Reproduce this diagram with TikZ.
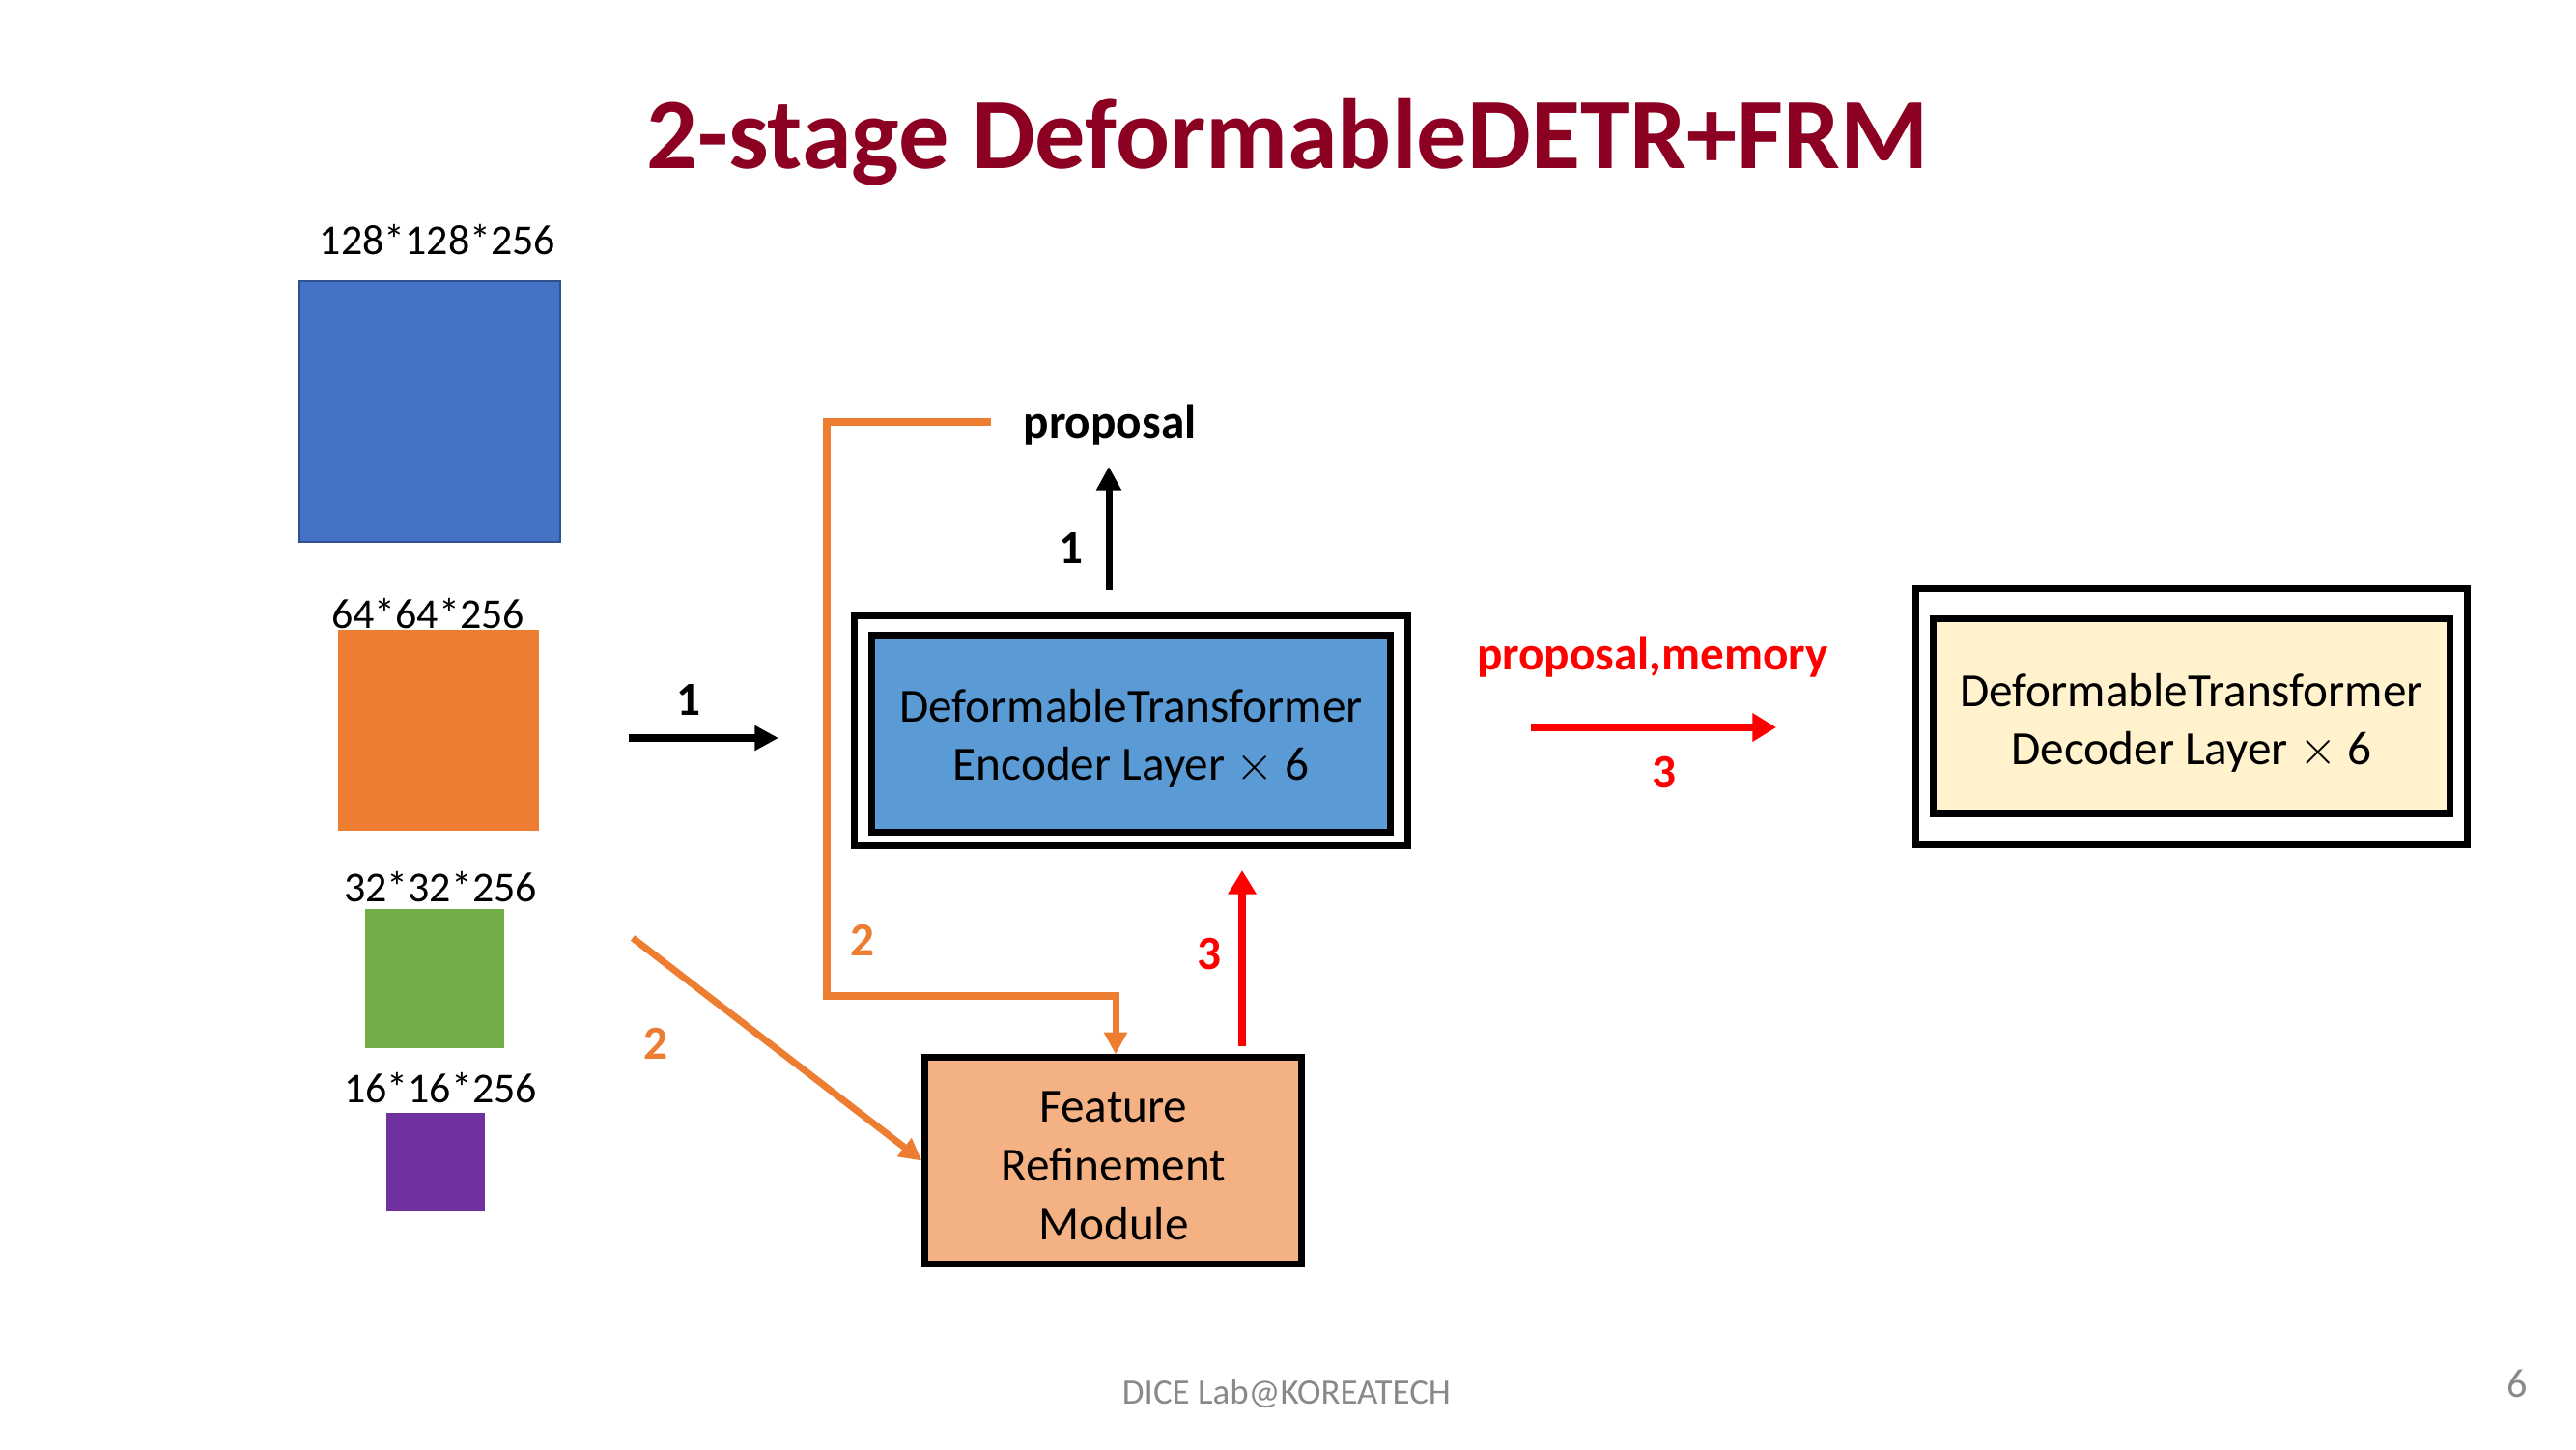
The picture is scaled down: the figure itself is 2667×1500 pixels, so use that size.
\documentclass[tikz,border=0pt]{standalone}
\usepackage{fontspec}
\setmainfont{Carlito}
\usetikzlibrary{arrows.meta}
\definecolor{titlered}{HTML}{8C0021}
\definecolor{sqblue}{HTML}{4472C4}
\definecolor{sqblueb}{HTML}{2F528F}
\definecolor{sqorange}{HTML}{ED7D31}
\definecolor{sqgreen}{HTML}{70AD47}
\definecolor{sqpurple}{HTML}{7030A0}
\definecolor{encfill}{HTML}{5B9BD5}
\definecolor{decfill}{HTML}{FFF2CC}
\definecolor{frmfill}{HTML}{F4B183}
\definecolor{footgray}{HTML}{898989}
\definecolor{arrred}{HTML}{FF0000}
\tikzset{
  px/.style={x=0.01cm,y=-0.01cm},
  sq/.style={draw=none,inner sep=0pt,minimum width=#1,minimum height=#1},
  dimlabel/.style={font=\fontsize{12.5}{15}\selectfont,inner sep=0pt},
  outerbox/.style={draw=black,line width=2pt,fill=white,inner sep=0pt},
  innerbox/.style={draw=black,line width=2pt,inner sep=0pt},
  boxtext/.style={inner sep=0pt,align=center,font=\fontsize{14}{17}\selectfont},
  numlabel/.style={font=\fontsize{14}{17}\selectfont\bfseries,inner sep=0pt},
  blackarrow/.style={draw=black,line width=2pt,-{Triangle[width=7pt,length=7pt]}},
  redarrow/.style={draw=arrred,line width=2.2pt,-{Triangle[width=8pt,length=7pt]}},
  orangearrow/.style={draw=sqorange,line width=2pt,-{Triangle[width=6.5pt,length=6.5pt]}},
}
\begin{document}
\begin{tikzpicture}[px]
\useasboundingbox (0,0) rectangle (2667,1500);
% title
\node[font=\fontsize{29.7}{36}\selectfont\bfseries,text=titlered,inner sep=0pt] (title) at (1333,147) {2-stage DeformableDETR+FRM};
% feature maps
\node[sq=2.7cm,fill=sqblue,draw=sqblueb,line width=0.8pt] (blue) at (445,426) {};
\node[dimlabel] (lblue) at (453,248) {128*128*256};
\node[sq=2.07cm,fill=sqorange] (orange) at (454,756) {};
\node[dimlabel] (lorange) at (443,635) {64*64*256};
\node[sq=1.44cm,fill=sqgreen] (green) at (450,1013) {};
\node[dimlabel] (lgreen) at (456,918) {32*32*256};
\node[sq=1.02cm,fill=sqpurple] (purple) at (451,1203) {};
\node[dimlabel] (lpurple) at (456,1126) {16*16*256};
% encoder
\node[outerbox,minimum width=5.73cm,minimum height=2.38cm] (encout) at (1171,756.5) {};
\node[innerbox,fill=encfill,minimum width=5.36cm,minimum height=2.03cm] (enc) at (1171,759.5) {};
\node[boxtext] (enctext) at (1171,764) {DeformableTransformer\\Encoder Layer $\times$ 6};
% decoder
\node[outerbox,minimum width=5.71cm,minimum height=2.65cm] (decout) at (2269,742) {};
\node[innerbox,fill=decfill,minimum width=5.34cm,minimum height=2.01cm] (dec) at (2269,741.5) {};
\node[boxtext] (dectext) at (2269,748) {DeformableTransformer\\Decoder Layer $\times$ 6};
% FRM
\node[innerbox,fill=frmfill,minimum width=3.89cm,minimum height=2.13cm] (frm) at (1152.5,1201.5) {};
\node[boxtext,font=\fontsize{14}{17.3}\selectfont] (frmtext) at (1153,1207) {Feature\\Refinement\\Module};
% proposal label
\node[numlabel] (prop) at (1149,440) {proposal};
% arrow 1 horizontal
\coordinate (h1s) at (651,764);
\coordinate (h1e) at (806,764);
\draw[blackarrow] (h1s) -- (h1e);
\node[numlabel] (l1h) at (713,725) {1};
% arrow 1 up
\coordinate (u1s) at (1148,611);
\coordinate (u1e) at (1148,483);
\draw[blackarrow] (u1s) -- (u1e);
\node[numlabel] (l1u) at (1109,568) {1};
% orange feedback path
\coordinate (o1) at (1026,437);
\coordinate (o2) at (856,437);
\coordinate (o3) at (856,1031);
\coordinate (o4) at (1155,1031);
\draw[orangearrow] (o1) -- (o2) -- (o3) -- (o4) -- (o4 |- frm.north);
\node[numlabel,text=sqorange] (l2a) at (893,973) {2};
% orange diagonal
\coordinate (d1) at (655,971);
\draw[orangearrow] (d1) -- (frm.west);
\node[numlabel,text=sqorange] (l2b) at (679,1080) {2};
% red up
\coordinate (r1s) at (1286,1083);
\coordinate (r1e) at (1286,901);
\draw[redarrow] (r1s) -- (r1e);
\node[numlabel,text=arrred] (l3a) at (1252,988) {3};
% red right
\coordinate (r2s) at (1585,753);
\coordinate (r2e) at (1839,753);
\draw[redarrow] (r2s) -- (r2e);
\node[numlabel,text=arrred] (lpm) at (1711,680) {proposal,memory};
\node[numlabel,text=arrred] (l3b) at (1723,800) {3};
% footer
\node[font=\fontsize{10.5}{12}\selectfont,text=footgray,inner sep=0pt] (foot) at (1332,1443) {DICE Lab@KOREATECH};
\node[font=\fontsize{12}{14}\selectfont,text=footgray,inner sep=0pt] (page) at (2606,1432) {6};
\end{tikzpicture}
\end{document}
